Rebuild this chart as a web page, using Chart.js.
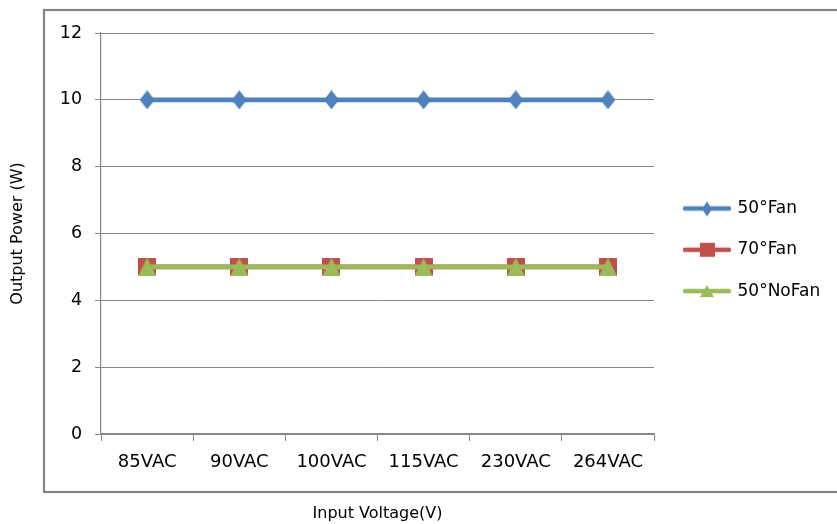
<!DOCTYPE html>
<html><head><meta charset="utf-8">
<script src="https://cdn.jsdelivr.net/npm/chart.js@4/dist/chart.umd.min.js"></script>
<style>html,body{margin:0;padding:0;background:#fff}#wrap{width:837px;height:524px}</style>
</head><body><div id="wrap"><canvas id="c" width="837" height="524"></canvas></div>
<script>
const categories = ['85VAC','90VAC','100VAC','115VAC','230VAC','264VAC'];
const fan50 = [10,10,10,10,10,10];
const fan70 = [5,5,5,5,5,5];
const noFan50 = [5,5,5,5,5,5];
const seriesNames = ['50°Fan','70°Fan','50°NoFan'];
const yTicks = [0,2,4,6,8,10,12];
const xTitle = 'Input Voltage(V)';
const yTitle = 'Output Power (W)';

const BLUE = '#4F81BD', RED = '#C0504D', GREEN = '#9BBB59';
const GRID = '#868686';
const FONT = 'DejaVu Sans';

function makeMarker(kind, color, w, h) {
  const c = document.createElement('canvas'); c.width = w; c.height = h;
  const g = c.getContext('2d'); g.fillStyle = color; g.beginPath();
  if (kind === 'diamond') { g.moveTo(w/2,0); g.lineTo(w,h/2); g.lineTo(w/2,h); g.lineTo(0,h/2); }
  else if (kind === 'square') { g.rect(0,0,w,h); }
  else { g.moveTo(w/2,0); g.lineTo(w,h); g.lineTo(0,h); }
  g.closePath(); g.fill(); return c;
}
function makeLegendIcon(kind, color, mw, mh) {
  const W = 48, H = 20;
  const c = document.createElement('canvas'); c.width = W; c.height = H;
  const g = c.getContext('2d');
  g.strokeStyle = color; g.lineWidth = 4.5; g.lineCap = 'round';
  g.beginPath(); g.moveTo(2, H/2); g.lineTo(W-2, H/2); g.stroke();
  g.drawImage(makeMarker(kind, color, mw, mh), Math.round((W-mw)/2), Math.round((H-mh)/2));
  return c;
}
const legendIcons = [
  makeLegendIcon('diamond', BLUE, 10, 15),
  makeLegendIcon('square', RED, 15, 14),
  makeLegendIcon('triangle', GREEN, 14, 12)
];

const framePlugin = {
  id: 'frame',
  beforeDraw(chart) {
    const ctx = chart.ctx;
    ctx.save();
    ctx.fillStyle = '#fff'; ctx.fillRect(0, 0, chart.width, chart.height);
    ctx.strokeStyle = '#858585'; ctx.lineWidth = 2.2;
    ctx.strokeRect(44, 10, chart.width + 20, 482);
    ctx.restore();
  }
};
const legendPos = {
  id: 'legendPos',
  afterLayout(chart) {
    const L = chart.legend; if (!L) return;
    const pad = L.options.labels.padding;
    const dx = 685 - (L.left + pad);
    L.left += dx; L.right += dx;
    const dy = (208.5 - 8.5 - pad) - L.top;
    L.top += dy; L.bottom += dy;
  }
};

const chart = new Chart(document.getElementById('c'), {
  type: 'line',
  data: {
    labels: categories,
    datasets: [
      { label: seriesNames[0], data: fan50, borderColor: BLUE, backgroundColor: BLUE, borderWidth: 4.6,
        pointStyle: makeMarker('diamond', BLUE, 15, 19), order: 2 },
      { label: seriesNames[1], data: fan70, borderColor: RED, backgroundColor: RED, borderWidth: 4.6,
        pointStyle: makeMarker('square', RED, 18, 18), order: 1 },
      { label: seriesNames[2], data: noFan50, borderColor: GREEN, backgroundColor: GREEN, borderWidth: 4.6,
        pointStyle: makeMarker('triangle', GREEN, 18, 18), order: 0 }
    ]
  },
  options: {
    responsive: false,
    animation: false,
    events: [],
    layout: { padding: { top: 33, right: 14, bottom: 0, left: 0 } },
    elements: { line: { tension: 0, fill: false } },
    scales: {
      x: {
        type: 'category',
        offset: true,
        grid: { display: true, drawOnChartArea: false, drawTicks: true, tickLength: 7, offset: true, color: GRID, lineWidth: 1 },
        border: { display: true, color: GRID, width: 1.2 },
        ticks: { color: '#000', font: { family: FONT, size: 18 }, padding: 11, maxRotation: 0, autoSkip: false },
        title: { display: true, text: xTitle, color: '#000', font: { family: FONT, size: 16 }, padding: { top: 19.2, bottom: 1 } }
      },
      y: {
        min: 0, max: 12,
        afterBuildTicks: s => { s.ticks = yTicks.map(v => ({ value: v })); },
        grid: { color: GRID, lineWidth: 1, tickLength: 6, drawTicks: true },
        border: { display: true, color: GRID, width: 1.2 },
        ticks: { color: '#000', font: { family: FONT, size: 17.5 }, padding: 13 },
        title: { display: true, text: yTitle, color: '#000', font: { family: FONT, size: 16 }, padding: { top: 8.4, bottom: 19.2 } }
      }
    },
    plugins: {
      tooltip: { enabled: false },
      legend: {
        position: 'right',
        align: 'start',
        labels: {
          usePointStyle: true,
          pointStyleWidth: 44,
          padding: 24.3,
          color: '#000',
          font: { family: FONT, size: 17 },
          generateLabels: (ch) => {
            const items = Chart.defaults.plugins.legend.labels.generateLabels(ch);
            items.sort((a, b) => a.datasetIndex - b.datasetIndex);
            items.forEach(it => { it.pointStyle = legendIcons[it.datasetIndex]; });
            return items;
          }
        }
      }
    }
  },
  plugins: [framePlugin, legendPos]
});

// fine-tune plot area placement
const target = { left: 101, top: 33, right: 654, bottom: 434 };
for (let k = 0; k < 3; k++) {
  const a = chart.chartArea, p = chart.options.layout.padding;
  p.right += a.right - target.right;
  p.top += target.top - a.top;
  p.bottom += a.bottom - target.bottom;
  chart.update('none');
}
</script>
</body></html>
